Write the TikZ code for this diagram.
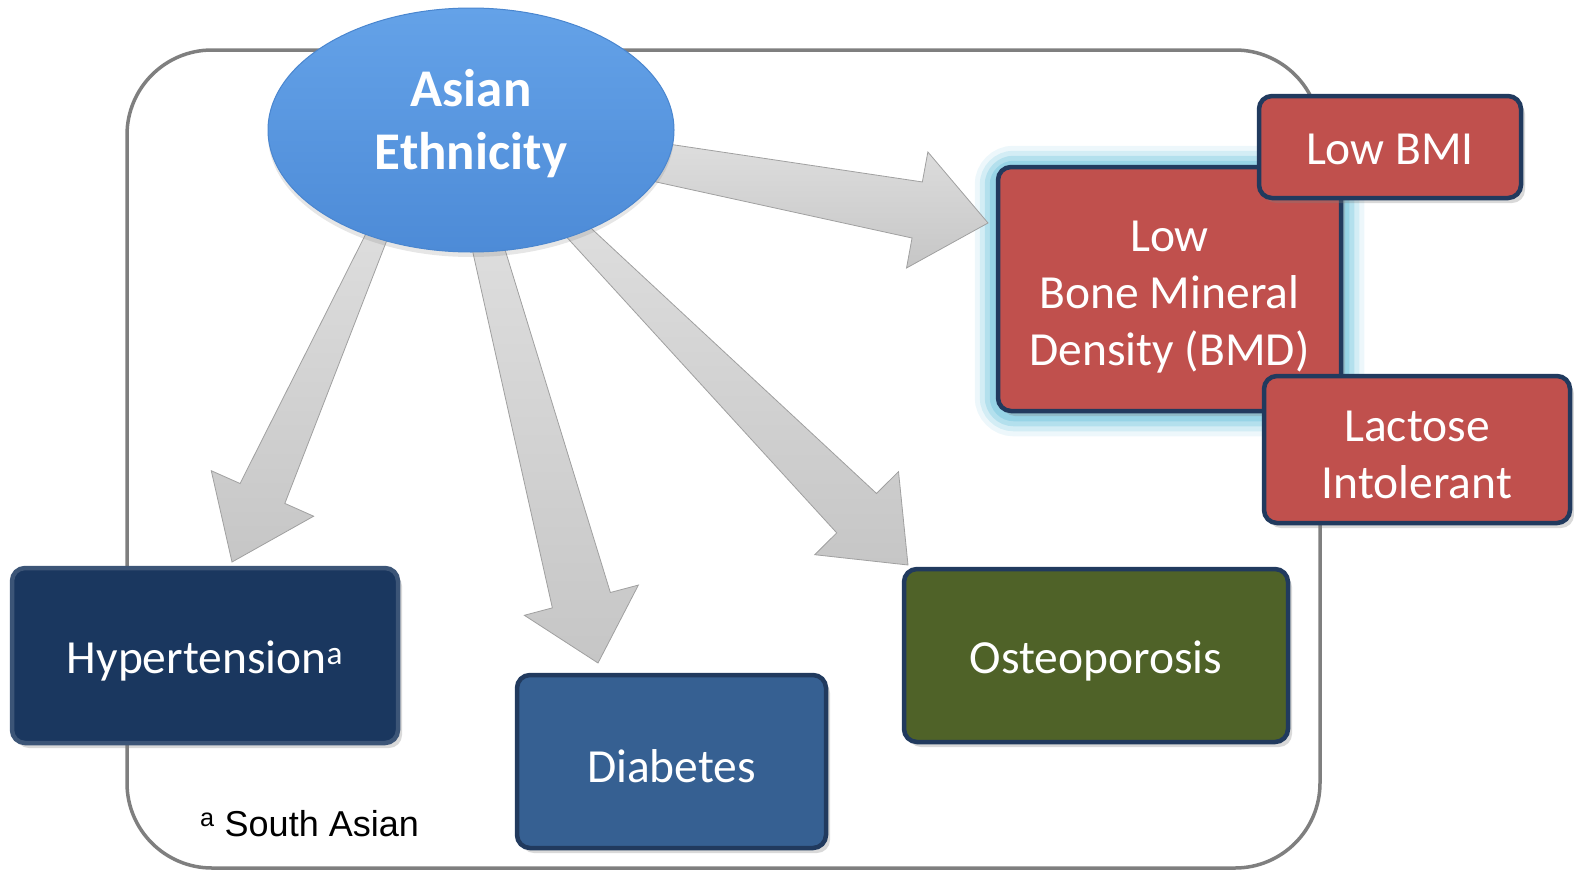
\documentclass[tikz,border=0pt]{standalone}
\usepackage{fontspec}
\setmainfont{Carlito}
\newfontfamily\notefont{Liberation Sans}
\usepackage{xcolor}
\usetikzlibrary{positioning,calc,shapes.geometric,shadows,backgrounds}
\definecolor{ethtop}{HTML}{64A2E8}
\definecolor{ethbot}{HTML}{4D8BD7}
\definecolor{ethedge}{HTML}{4A86CF}
\definecolor{riskred}{HTML}{C0504D}
\definecolor{navyedge}{HTML}{213A5E}
\definecolor{hypfill}{HTML}{1A375F}
\definecolor{diafill}{HTML}{366092}
\definecolor{ostfill}{HTML}{4F6228}
\definecolor{framegray}{HTML}{7F7F7F}
\definecolor{arrowlight}{HTML}{DEDEDE}
\definecolor{arrowgray}{HTML}{C6C6C6}
\definecolor{arrowedge}{HTML}{A0A0A0}
\definecolor{glowcyan}{HTML}{84CCE2}
\tikzset{
    boxnode/.style={
        draw=navyedge,
        line width=4.5pt,
        rounded corners=13pt,
        text=white,
        align=center,
        inner sep=0pt,
        font=\fontsize{47.5}{57}\selectfont,
        execute at begin node={\rule{0pt}{43pt}},
        drop shadow={shadow xshift=4pt, shadow yshift=-5pt, opacity=0.3}
    },
    ethnode/.style={
        ellipse,
        draw=ethedge,
        line width=1pt,
        top color=ethtop,
        bottom color=ethbot,
        text=white,
        align=center,
        font=\fontsize{53}{63}\selectfont\bfseries,
        execute at end node={\rule[-22pt]{0pt}{1pt}},
        minimum width=406pt,
        minimum height=244pt,
        drop shadow={shadow xshift=0pt, shadow yshift=-5pt, opacity=0.2}
    },
    bigarrow/.style={
        top color=arrowlight,
        bottom color=arrowgray,
        draw=arrowedge,
        line width=0.8pt
    },
    frameline/.style={
        draw=framegray,
        line width=3.5pt,
        rounded corners=85pt
    }
}

\begin{document}
\begin{tikzpicture}[x=1pt,y=-1pt]
        \useasboundingbox (0,0) rectangle (1574,873);

        % draw nodes
        \node[ethnode] (eth) at (471,130) {Asian\\Ethnicity};
        \node[boxnode, fill=riskred, text depth=0pt, execute at begin node={\rule{0pt}{153pt}}, minimum width=343pt, minimum height=244pt] (bmd) at (1169.5,289) {Low\\Bone Mineral\\Density (BMD)};
        \node[boxnode, fill=riskred, text depth=8pt, minimum width=262pt, minimum height=102pt] (bmi) at (1390,147) {Low BMI};
        \node[boxnode, fill=riskred, execute at begin node={\rule{0pt}{98pt}}, minimum width=306pt, minimum height=147pt] (lac) at (1417,449.5) {Lactose\\Intolerant};
        \node[boxnode, fill=hypfill, draw=hypfill!85!white, minimum width=386pt, minimum height=175pt] (hyp) at (205,655.5) {Hypertension\textsuperscript{a}};
        \node[boxnode, fill=diafill, minimum width=309pt, minimum height=173pt] (dia) at (671.5,761.5) {Diabetes};
        \node[boxnode, fill=ostfill, minimum width=384pt, minimum height=173pt] (ost) at (1096,655.5) {Osteoporosis};
        \node[anchor=base west, inner sep=0pt, font=\notefont\fontsize{36}{40}\selectfont] (note) at (200,836) {\textsuperscript{a} South Asian};

        % arrow ends
        \coordinate (s1) at (640,159);
        \coordinate (t1) at (988,223);
        \coordinate (s2) at (384,220);
        \coordinate (t2) at (232,562);
        \coordinate (s3) at (483,229);
        \coordinate (t3) at (598,663);
        \coordinate (s4) at (565,219);
        \coordinate (t4) at (908,565);

        \begin{scope}[on background layer]
            % draw frame
            \draw[frameline] (127,50) rectangle (1320,868);

            % draw glow
            \foreach \gw/\go in {42/0.15, 32/0.25, 22/0.4, 12/0.6}
            {
                \draw[glowcyan, line width=\gw pt, opacity=\go, rounded corners=18pt] ([yshift=-2pt]bmd.north west) rectangle ([yshift=-2pt]bmd.south east);
            }

            % draw block arrows
            \foreach \src/\tip/\wa/\wb/\wh/\hlen in {s1/t1/19/28.5/59/72, s2/t2/10/24.5/56/75, s3/t3/15/30/59/65, s4/t4/11/28/59/73}
            {
                \coordinate (hb) at ($(\tip)!\hlen pt!(\src)$);
                \path[bigarrow] ($(\src)!\wa pt!90:(\tip)$) -- ($(hb)!\wb pt!90:(\tip)$) -- ($(hb)!\wh pt!90:(\tip)$) -- (\tip)
                    -- ($(hb)!\wh pt!-90:(\tip)$) -- ($(hb)!\wb pt!-90:(\tip)$) -- ($(\src)!\wa pt!-90:(\tip)$) -- cycle;
            }
        \end{scope}
    \end{tikzpicture}
\end{document}
